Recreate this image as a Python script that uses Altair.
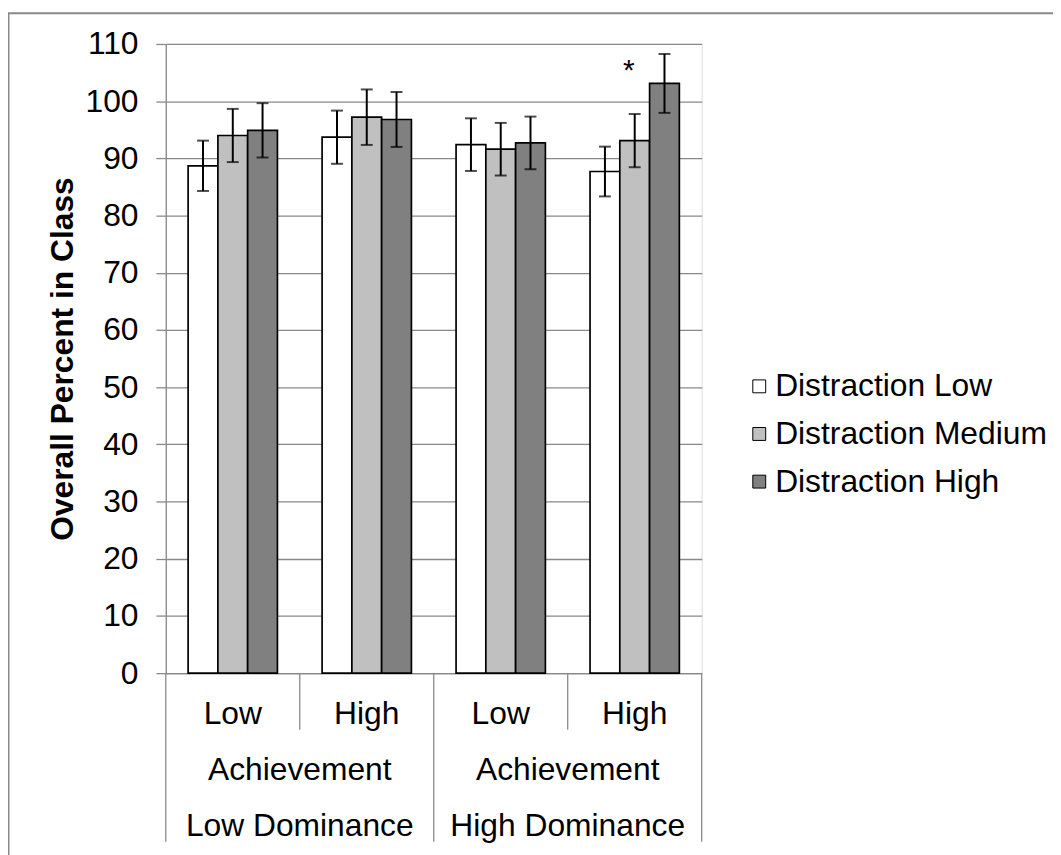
import altair as alt
import pandas as pd

# ---------------- data ----------------
dominance_levels = ["Low Dominance", "Low Dominance", "High Dominance", "High Dominance"]
achievement_levels = ["Low", "High", "Low", "High"]
group_word = "Achievement"
distraction_levels = ["Distraction Low", "Distraction Medium", "Distraction High"]
bar_colors = ["#ffffff", "#c0c0c0", "#808080"]

means = [
    [88.7, 94.0, 94.9],
    [93.7, 97.2, 96.8],
    [92.4, 91.6, 92.7],
    [87.7, 93.1, 103.1],
]
errors = [
    [4.4, 4.65, 4.75],
    [4.65, 4.85, 4.8],
    [4.6, 4.6, 4.6],
    [4.35, 4.65, 5.15],
]
star_category = 3
star_series = "Distraction Medium"
star_value = 105.5
y_ticks = list(range(0, 111, 10))
y_title = "Overall Percent in Class"

# ---------------- tables ----------------
cat_keys = [f"{d}|{a}" for d, a in zip(dominance_levels, achievement_levels)]

rows = []
for i, key in enumerate(cat_keys):
    for j, dist in enumerate(distraction_levels):
        m = means[i][j]
        e = errors[i][j]
        rows.append({"cat": key, "dist": dist, "mean": m, "lo": m - e, "hi": m + e})
bars_df = pd.DataFrame(rows)

cat_rows = []
for i, key in enumerate(cat_keys):
    start = i == 0 or dominance_levels[i] != dominance_levels[i - 1]
    cat_rows.append({
        "cat": key,
        "ach": achievement_levels[i],
        "dom": dominance_levels[i],
        "grp": group_word,
        "start": start,
        "last": i == len(cat_keys) - 1,
    })
cat_df = pd.DataFrame(cat_rows)

star_df = pd.DataFrame([{
    "cat": cat_keys[star_category], "dist": star_series, "val": star_value, "t": "*"
}])
frame_df = pd.DataFrame([{"k": 1}])

# ---------------- styling ----------------
FONT = "Liberation Sans"
GRID = "#898989"
W, H = 540, 634

x_scale = alt.Scale(domain=cat_keys, paddingInner=0, paddingOuter=0)
x_axis = alt.Axis(labels=False, ticks=False, title=None, grid=False,
                  domainColor=GRID, domainWidth=1.3)


def make_x(band_position=None):
    if band_position is None:
        return alt.X("cat:N", sort=cat_keys, scale=x_scale, axis=x_axis)
    return alt.X("cat:N", sort=cat_keys, scale=x_scale, axis=x_axis,
                 bandPosition=band_position)


xoff = alt.XOffset("dist:N", sort=distraction_levels,
                   scale=alt.Scale(domain=distraction_levels, paddingInner=0,
                                   paddingOuter=0.75))

y_scale = alt.Scale(domain=[0, 110], nice=False, zero=True)
y_axis = alt.Axis(values=y_ticks, grid=True, gridColor=GRID, gridWidth=1.3,
                  domainColor=GRID, domainWidth=1.3, tickColor=GRID, tickWidth=1.3,
                  tickSize=10, labelFontSize=32, labelColor="black", labelFont=FONT,
                  labelPadding=18, titleFontSize=32, titleFont=FONT,
                  titleFontWeight="bold", titleColor="black", titlePadding=6)


def make_y(field):
    return alt.Y(f"{field}:Q", scale=y_scale, axis=y_axis, title=y_title)


fill = alt.Fill("dist:N", sort=distraction_levels,
                scale=alt.Scale(domain=distraction_levels, range=bar_colors),
                legend=alt.Legend(title=None, orient="none", legendX=582, legendY=329,
                                  labelFontSize=32, labelFont=FONT, labelColor="black",
                                  labelLimit=500, symbolType="square", symbolSize=169,
                                  symbolStrokeColor="black", symbolStrokeWidth=1,
                                  rowPadding=16, labelOffset=0))

frame = alt.Chart(frame_df).mark_rect(filled=False, stroke=GRID, strokeWidth=2).encode(
    x=alt.value(-158.5), x2=alt.value(1100), y=alt.value(-31), y2=alt.value(1100)
)

bars = alt.Chart(bars_df).mark_bar(stroke="black", strokeWidth=1.7).encode(
    x=make_x(), xOffset=xoff, y=make_y("mean"), fill=fill
)

err = alt.Chart(bars_df).mark_rule(color="black", strokeWidth=2).encode(
    x=make_x(), xOffset=xoff, y=make_y("lo"), y2="hi:Q"
)
cap_lo = alt.Chart(bars_df).mark_tick(color="black", thickness=2, size=12).encode(
    x=make_x(), xOffset=xoff, y=make_y("lo")
)
cap_hi = alt.Chart(bars_df).mark_tick(color="black", thickness=2, size=12).encode(
    x=make_x(), xOffset=xoff, y=make_y("hi")
)

star = alt.Chart(star_df).mark_text(fontSize=30, font=FONT, color="black",
                                    baseline="middle", dx=-6, dy=1).encode(
    x=make_x(), xOffset=xoff, y=make_y("val"), text="t:N"
)

sep_long = alt.Chart(cat_df).transform_filter(alt.datum.start).mark_rule(
    color=GRID, strokeWidth=1.3).encode(
    x=make_x(0), y=alt.value(H), y2=alt.value(H + 170)
)
sep_end = alt.Chart(cat_df).transform_filter(alt.datum.last).mark_rule(
    color=GRID, strokeWidth=1.3).encode(
    x=make_x(1), y=alt.value(H), y2=alt.value(H + 170)
)
sep_short = alt.Chart(cat_df).transform_filter(~alt.datum.start).mark_rule(
    color=GRID, strokeWidth=1.3).encode(
    x=make_x(0), y=alt.value(H), y2=alt.value(H + 57)
)

txt = dict(fontSize=32, font=FONT, color="black", baseline="middle", align="center")
row1 = alt.Chart(cat_df).mark_text(**txt).encode(
    x=make_x(), y=alt.value(H + 41), text="ach:N"
)
row2 = alt.Chart(cat_df).transform_filter(~alt.datum.start).mark_text(**txt).encode(
    x=make_x(0), y=alt.value(H + 98), text="grp:N"
)
row3 = alt.Chart(cat_df).transform_filter(~alt.datum.start).mark_text(**txt).encode(
    x=make_x(0), y=alt.value(H + 154), text="dom:N"
)

chart = alt.layer(
    frame, bars, err, cap_lo, cap_hi, star, sep_long, sep_end, sep_short, row1, row2, row3
).properties(
    width=W, height=H,
    autosize=alt.AutoSizeParams(type="none"),
    padding={"left": 159, "top": 33, "right": 1053 - 159 - W, "bottom": 847 - 33 - H},
).configure_view(stroke=None).configure(font=FONT)

chart.save("out.html", embed_options={"renderer": "svg", "actions": False})
